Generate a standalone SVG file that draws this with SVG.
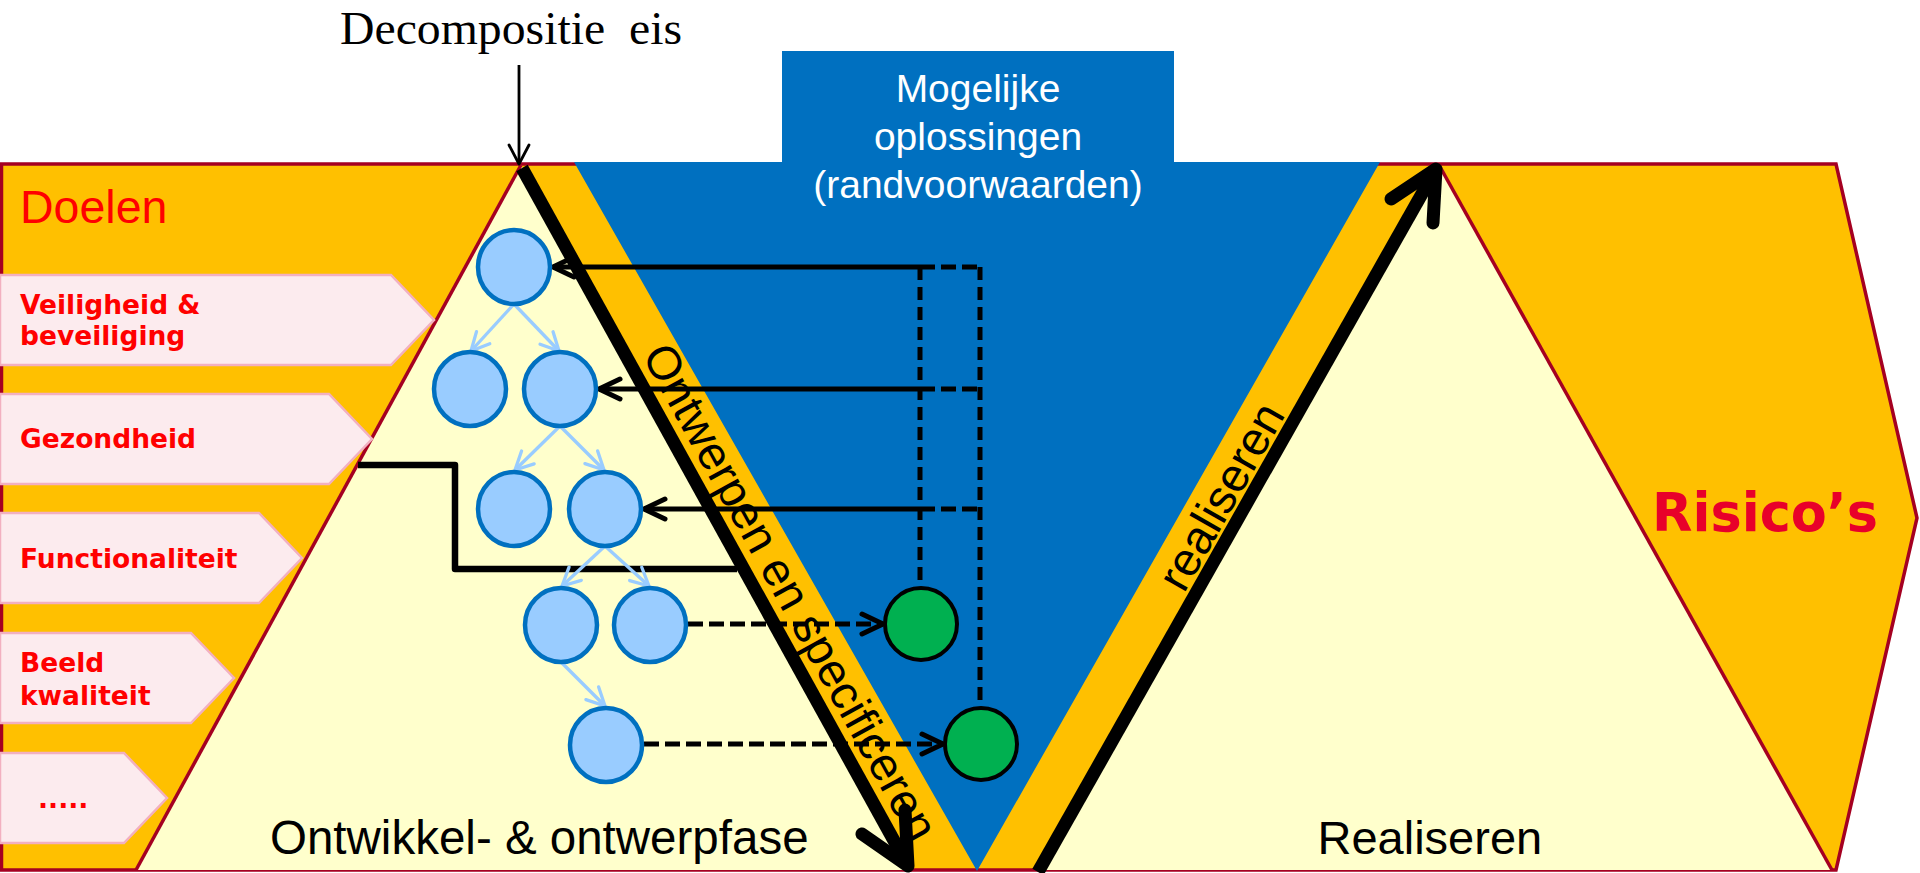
<svg xmlns="http://www.w3.org/2000/svg" width="1920" height="873" viewBox="0 0 1920 873">
<defs>
<style>
.frame{fill:#FFC000;stroke:#A50021;stroke-width:3.5;stroke-linejoin:miter}
.tri{fill:#FFFFCC}
.edge{stroke:#A50021;stroke-width:3.5;fill:none}
.blue{fill:#0070C0}
.goal{fill:#FCEBEE;stroke:#F2B0C0;stroke-width:2.5}
.goalt{font-family:"DejaVu Sans",Verdana,sans-serif;font-weight:bold;font-size:26.5px;fill:#FF0000}
.sans{font-family:"Liberation Sans",Arial,sans-serif}
.req{fill:#99CCFF;stroke:#0070C0;stroke-width:4.5}
.sol{fill:#00B050;stroke:#000000;stroke-width:4}
.tree{stroke:#99CCFF;stroke-width:3.3;fill:none;marker-end:url(#ta)}
.big{stroke:#000000;stroke-width:13;fill:none}
.head{stroke:#000000;stroke-width:13;fill:none;stroke-linecap:round;stroke-linejoin:round}
.con{stroke:#000000;stroke-width:5;fill:none}
.arr{marker-end:url(#ah)}
.dash{stroke-dasharray:15 6}
.vdash{stroke-dasharray:13 7}
</style>
<marker id="ah" markerUnits="userSpaceOnUse" markerWidth="34" markerHeight="34" viewBox="-28 -17 34 34" refX="0" refY="0" orient="auto" overflow="visible">
<path d="M-21,-10 L0,0 L-21,10" fill="none" stroke="#000000" stroke-width="5" stroke-linecap="round" stroke-linejoin="round"/>
</marker>
<marker id="ta" markerUnits="userSpaceOnUse" markerWidth="30" markerHeight="30" viewBox="-24 -15 30 30" refX="0" refY="0" orient="auto" overflow="visible">
<path d="M-18,-9 L0,0 L-18,9" fill="none" stroke="#99CCFF" stroke-width="3.3" stroke-linecap="round" stroke-linejoin="round"/>
</marker>
<marker id="thin" markerUnits="userSpaceOnUse" markerWidth="30" markerHeight="30" viewBox="-24 -15 30 30" refX="0" refY="0" orient="auto" overflow="visible">
<path d="M-19,-10 L0,0 L-19,10" fill="none" stroke="#000000" stroke-width="2.8" stroke-linecap="round" stroke-linejoin="round"/>
</marker>
</defs>

<g id="background">
<polygon class="frame" points="1.5,164 1836,164 1917,518 1836,870 1.5,870"/>
<polygon class="tri" points="521,165 136,870 912,870"/>
<line class="edge" x1="521" y1="165" x2="136" y2="870"/>
<polygon class="tri" points="1439,165 1036,870 1832,870"/>
<line class="edge" x1="1439" y1="165" x2="1832" y2="870"/>
<polygon class="blue" points="782,51 1174,51 1174,162 1380,162 977,871 574,162 782,162"/>
</g>

<g id="title">
<text x="340" y="44" font-family="'Liberation Serif','Times New Roman',serif" font-size="47" fill="#000000" textLength="342" lengthAdjust="spacingAndGlyphs">Decompositie&#160; eis</text>
</g>

<g id="solutions-header">
<text class="sans" x="978" y="101.6" font-size="39" fill="#FFFFFF" text-anchor="middle">Mogelijke</text>
<text class="sans" x="978" y="150" font-size="39" fill="#FFFFFF" text-anchor="middle">oplossingen</text>
<text class="sans" x="978" y="198.4" font-size="39" fill="#FFFFFF" text-anchor="middle">(randvoorwaarden)</text>
</g>

<g id="doelen">
<text class="sans" x="20" y="223" font-size="46.5" fill="#FF0000">Doelen</text>
</g>

<g id="goal-veiligheid">
<polygon class="goal" points="0,275 391,275 434,320 391,365 0,365"/>
<text class="goalt" x="20" y="313.5">Veiligheid &amp;</text>
<text class="goalt" x="20" y="345.3">beveiliging</text>
</g>
<g id="goal-gezondheid">
<polygon class="goal" points="0,394 329,394 372,439 329,484 0,484"/>
<text class="goalt" x="20" y="448">Gezondheid</text>
</g>
<g id="goal-functionaliteit">
<polygon class="goal" points="0,513 259,513 302,558 259,603 0,603"/>
<text class="goalt" x="20" y="568">Functionaliteit</text>
</g>
<g id="goal-beeldkwaliteit">
<polygon class="goal" points="0,633 191,633 234,678 191,723 0,723"/>
<text class="goalt" x="20" y="671.6">Beeld</text>
<text class="goalt" x="20" y="705.3">kwaliteit</text>
</g>
<g id="goal-more">
<polygon class="goal" points="0,753 124,753 167,798 124,843 0,843"/>
<text class="goalt" x="38" y="808">.....</text>
</g>

<g id="risicos">
<text x="1652" y="531" font-family="'DejaVu Sans',Verdana,sans-serif" font-weight="bold" font-size="52.5" fill="#E8002A">Risico’s</text>
</g>

<g id="phase-labels">
<text class="sans" x="270" y="853.5" font-size="47.5" fill="#000000">Ontwikkel- &amp; ontwerpfase</text>
<text class="sans" x="1317.5" y="853.5" font-size="47" fill="#000000">Realiseren</text>
</g>

<g id="connectors">
<line x1="519" y1="65" x2="519" y2="164" stroke="#000000" stroke-width="2.8" marker-end="url(#thin)"/>
<line class="big" x1="522" y1="168" x2="908" y2="866"/>
<polyline class="head" points="862,834 908,866 905,810"/>
<line class="big" x1="1038" y1="872" x2="1436" y2="169"/>
<polyline class="head" points="1391,199 1436,169 1433,223"/>
<path d="M358,465 H455 V569 H737" fill="none" stroke="#000000" stroke-width="6.5" stroke-linejoin="round"/>
<line class="tree" x1="514" y1="304" x2="471" y2="351"/>
<line class="tree" x1="514" y1="304" x2="559" y2="351"/>
<line class="tree" x1="560" y1="426" x2="515" y2="470"/>
<line class="tree" x1="560" y1="426" x2="604" y2="470"/>
<line class="tree" x1="605" y1="546" x2="562" y2="586"/>
<line class="tree" x1="605" y1="546" x2="649" y2="586"/>
<line class="tree" x1="561" y1="662" x2="605" y2="706"/>
<line class="con arr" x1="920" y1="267" x2="553" y2="267"/>
<line class="con dash" x1="920" y1="267" x2="980" y2="267"/>
<line class="con arr" x1="920" y1="389" x2="599" y2="389"/>
<line class="con dash" x1="920" y1="389" x2="980" y2="389"/>
<line class="con arr" x1="920" y1="509" x2="644" y2="509"/>
<line class="con dash" x1="920" y1="509" x2="980" y2="509"/>
<line class="con vdash" x1="920" y1="267" x2="920" y2="587"/>
<line class="con vdash" x1="980" y1="267" x2="980" y2="707"/>
<line class="con dash arr" x1="688" y1="624" x2="883" y2="624"/>
<line class="con dash arr" x1="644" y1="744" x2="943" y2="744"/>
</g>

<g id="phase-arrow-labels">
<text class="sans" transform="translate(641.4,355.1) rotate(61.1)" font-size="47" fill="#000000">Ontwerpen en specificeren</text>
<text class="sans" transform="translate(1184,594) rotate(-60.4)" font-size="47" fill="#000000">realiseren</text>
</g>

<g id="req-A"><ellipse class="req" cx="514" cy="267" rx="36" ry="37"/></g>
<g id="req-B1"><ellipse class="req" cx="470" cy="389" rx="36" ry="37"/></g>
<g id="req-B2"><ellipse class="req" cx="560" cy="389" rx="36" ry="37"/></g>
<g id="req-C1"><ellipse class="req" cx="514" cy="509" rx="36" ry="37"/></g>
<g id="req-C2"><ellipse class="req" cx="605" cy="509" rx="36" ry="37"/></g>
<g id="req-D1"><ellipse class="req" cx="561" cy="625" rx="36" ry="37"/></g>
<g id="req-D2"><ellipse class="req" cx="650" cy="625" rx="36" ry="37"/></g>
<g id="req-E"><ellipse class="req" cx="606" cy="745" rx="36" ry="37"/></g>
<g id="sol-1"><ellipse class="sol" cx="921" cy="624" rx="36" ry="36"/></g>
<g id="sol-2"><ellipse class="sol" cx="981" cy="744" rx="36" ry="36"/></g>
</svg>
